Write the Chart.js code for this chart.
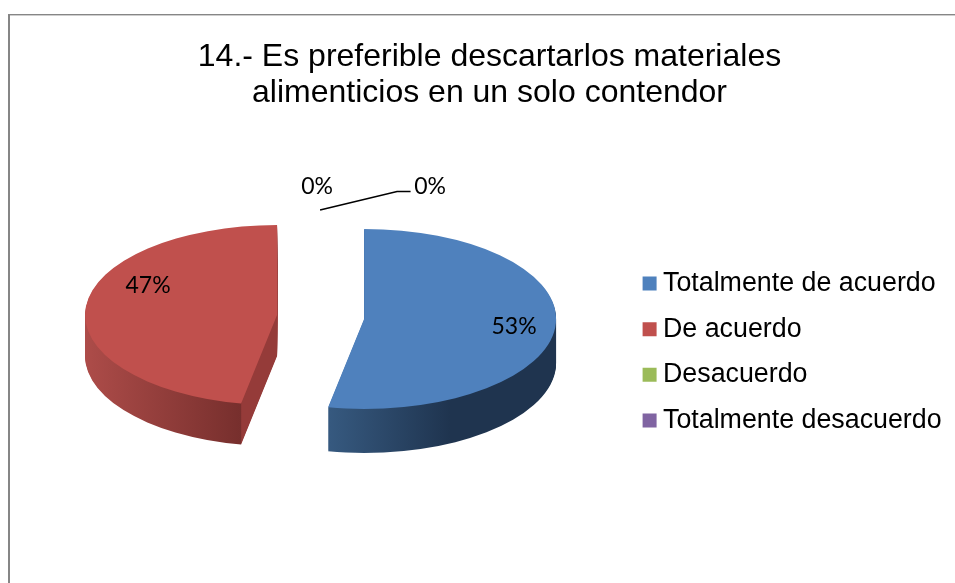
<!DOCTYPE html>
<html>
<head>
<meta charset="utf-8">
<style>html,body{margin:0;padding:0;background:#fff}canvas{display:block}</style>
<script src="https://cdn.jsdelivr.net/npm/chart.js@4"></script>
</head>
<body>
<canvas id="c" width="955" height="583"></canvas>
<script>
const titleLines = ['14.- Es preferible descartarlos materiales', 'alimenticios en un solo contendor'];
const categories = ['Totalmente de acuerdo', 'De acuerdo', 'Desacuerdo', 'Totalmente desacuerdo'];
const values = [53, 47, 0, 0];
const colors = ['#4F81BD', '#C0504D', '#9BBB59', '#8064A2'];

const SQUASH = 90 / 192;
const EXPLODE = 43.7;
const DEPTHS = [44, 41];
const LABEL_OFFSETS = [[193.5, 10], [-172.5, -31], [109.5, -130], [-3.5, -130]];
const LEADER = [[-0.5, -107], [76.5, -125.5], [90, -125.5]];

function squash(ctx, cy) {
  ctx.translate(0, cy);
  ctx.scale(1, SQUASH);
  ctx.translate(0, -cy);
}
function wallFill(ctx, i) {
  if (i === 0) {
    const g = ctx.createLinearGradient(330, 0, 450, 0);
    g.addColorStop(0, '#36597F');
    g.addColorStop(1, '#1F344F');
    return g;
  }
  const g = ctx.createLinearGradient(85, 0, 320, 0);
  g.addColorStop(0, '#AD4C49');
  g.addColorStop(0.662, '#772F2D');
  g.addColorStop(0.667, '#953B39');
  g.addColorStop(1, '#953B39');
  return g;
}

const pie3d = {
  id: 'pie3d',
  beforeDraw(chart) {
    const ctx = chart.ctx;
    ctx.save();
    ctx.fillStyle = '#868686';
    ctx.fillRect(8, 14, 2, 569);
    ctx.fillRect(8, 14, 947, 1.4);
    ctx.restore();
  },
  afterDatasetsUpdate(chart) {
    chart.getDatasetMeta(0).data.forEach(arc => {
      const half = (arc.startAngle + arc.endAngle) / 2;
      arc.x += Math.cos(half) * EXPLODE;
      arc.y += Math.sin(half) * EXPLODE;
    });
  },
  beforeDatasetsDraw(chart) {
    const ctx = chart.ctx;
    const arcs = chart.getDatasetMeta(0).data;
    const cy = (chart.chartArea.top + chart.chartArea.bottom) / 2;
    [1, 0].forEach(i => {
      const arc = arcs[i];
      const saved = arc.options;
      const o = Object.create(saved);
      o.backgroundColor = wallFill(ctx, i);
      arc.options = o;
      for (let d = DEPTHS[i]; d >= 1; d--) {
        ctx.save();
        ctx.translate(0, d);
        squash(ctx, cy);
        arc.draw(ctx);
        ctx.restore();
      }
      arc.options = saved;
    });
    ctx.save();
    squash(ctx, cy);
  },
  afterDatasetsDraw(chart) {
    const ctx = chart.ctx;
    ctx.restore();
    const cx = (chart.chartArea.left + chart.chartArea.right) / 2;
    const cy = (chart.chartArea.top + chart.chartArea.bottom) / 2;
    const total = values.reduce((a, b) => a + b, 0);
    ctx.save();
    ctx.strokeStyle = '#000';
    ctx.lineWidth = 1.5;
    ctx.beginPath();
    LEADER.forEach((p, i) => i ? ctx.lineTo(cx + p[0], cy + p[1]) : ctx.moveTo(cx + p[0], cy + p[1]));
    ctx.stroke();
    ctx.fillStyle = '#000';
    ctx.font = '23px Lato';
    ctx.textAlign = 'center';
    ctx.textBaseline = 'middle';
    values.forEach((v, i) => {
      ctx.fillText(Math.round(v / total * 100) + '%', cx + LABEL_OFFSETS[i][0], cy + LABEL_OFFSETS[i][1]);
    });
    ctx.restore();
  },
  afterLayout(chart) {
    const l = chart.legend, t = chart.titleBlock;
    l.left = 630.72;
    l.top += 90.5;
    l.bottom += 90.5;
    t.left += 8.5;
    t.right += 8.5;
  }
};

new Chart(document.getElementById('c'), {
  type: 'pie',
  data: {
    labels: categories,
    datasets: [{
      data: values,
      backgroundColor: colors,
      borderWidth: 0,
      radius: 192,
      clip: false
    }]
  },
  plugins: [pie3d],
  options: {
    responsive: false,
    animation: false,
    events: [],
    layout: { padding: { left: 7, right: 0, top: 0, bottom: 60 } },
    plugins: {
      tooltip: { enabled: false },
      title: {
        display: true,
        text: titleLines,
        color: '#000',
        font: { family: 'Liberation Sans', size: 32, weight: 'normal', lineHeight: 1.125 },
        padding: { top: 39, bottom: 0 }
      },
      legend: {
        position: 'right',
        labels: {
          color: '#000',
          font: { family: 'Liberation Sans', size: 26.8, lineHeight: 1.2 },
          usePointStyle: true,
          pointStyle: 'rect',
          boxWidth: 0.01,
          boxHeight: 14,
          padding: 18.87
        }
      }
    }
  }
});
</script>
</body>
</html>
